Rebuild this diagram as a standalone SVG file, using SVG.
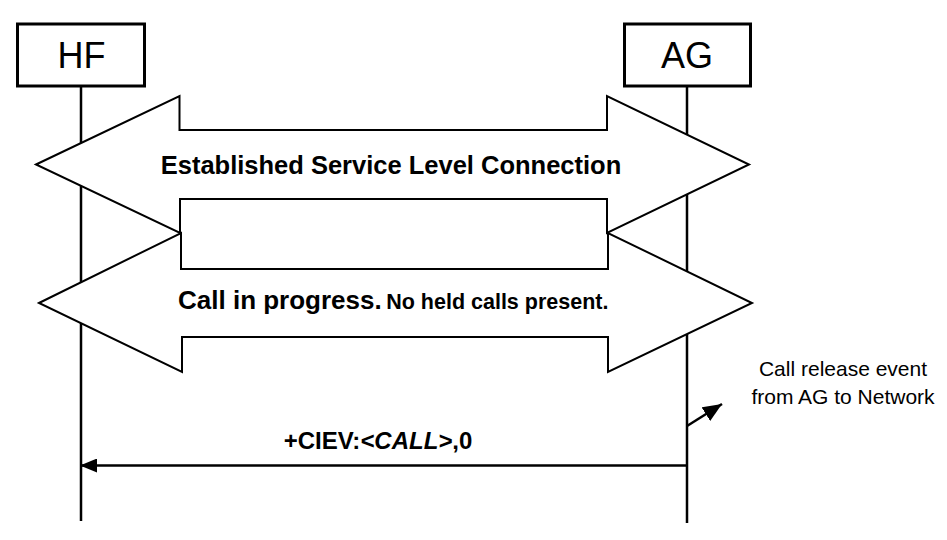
<svg xmlns="http://www.w3.org/2000/svg" width="947" height="540" viewBox="0 0 947 540">
  <style>
    .box { fill: #fff; stroke: #000; stroke-width: 3; }
    .life { stroke: #000; stroke-width: 2.5; fill: none; }
    .band { fill: #fff; stroke: #000; stroke-width: 2; stroke-linejoin: miter; }
    .msg { stroke: #000; stroke-width: 2.5; fill: none; }
    .name { font-family: "Liberation Sans", Arial, sans-serif; font-size: 36px; fill: #000; text-anchor: middle; }
    .bandtxt { font-family: "Liberation Sans", Arial, sans-serif; font-weight: bold; fill: #000; }
    .lbl { font-family: "Liberation Sans", Arial, sans-serif; font-weight: bold; font-size: 24px; fill: #000; text-anchor: middle; }
    .note { font-family: "Liberation Sans", Arial, sans-serif; font-size: 21px; fill: #000; text-anchor: middle; }
  </style>
  <defs>
    <marker id="head" viewBox="0 0 17 14" refX="17" refY="7" markerWidth="17" markerHeight="14" markerUnits="userSpaceOnUse" orient="auto">
      <path d="M0,0 L17,7 L0,14 z" fill="#000"/>
    </marker>
    <marker id="head-lg" viewBox="0 0 19 16" refX="19" refY="8" markerWidth="19" markerHeight="16" markerUnits="userSpaceOnUse" orient="auto">
      <path d="M0,0 L19,8 L0,16 z" fill="#000"/>
    </marker>
  </defs>

  <!-- lifelines -->
  <g id="lifelines">
    <line class="life" x1="81" y1="86" x2="81" y2="521"/>
    <line class="life" x1="687" y1="86" x2="687" y2="523"/>
  </g>

  <g id="hf">
    <rect class="box" x="17.5" y="24" width="127" height="62"/>
    <text class="name" x="81.5" y="67.5">HF</text>
  </g>
  <g id="ag">
    <rect class="box" x="624.5" y="24" width="126" height="62"/>
    <text class="name" x="687" y="67.5">AG</text>
  </g>

  <!-- double-headed state bands -->
  <g id="slc">
    <polygon class="band" points="36,164.5 179.5,96 179.5,130 607,130 607,96 749,164.5 607,233 607,199 180,199 180,233"/>
    <text class="bandtxt" x="391" y="174" font-size="25.5" text-anchor="middle">Established Service Level Connection</text>
  </g>
  <g id="call">
    <polygon class="band" points="39,303 181,233 181,269 608,269 608,233 752,303 608,372 608,337 182,337 182,372"/>
    <text class="bandtxt" x="178" y="309"><tspan font-size="26">Call in progress.</tspan> <tspan font-size="21.5">No held calls present.</tspan></text>
  </g>

  <g id="note">
    <text class="note" x="843" y="376">Call release event</text>
    <text class="note" x="843" y="404">from AG to Network</text>
  </g>

  <!-- connectors -->
  <g id="connectors">
    <line class="msg" x1="687" y1="426" x2="722" y2="404" marker-end="url(#head-lg)"/>
    <line class="msg" x1="687" y1="465.5" x2="80" y2="465.5" marker-end="url(#head)"/>
    <text class="lbl" x="378" y="449">+CIEV:<tspan font-style="italic">&lt;CALL&gt;</tspan>,0</text>
  </g>
</svg>
